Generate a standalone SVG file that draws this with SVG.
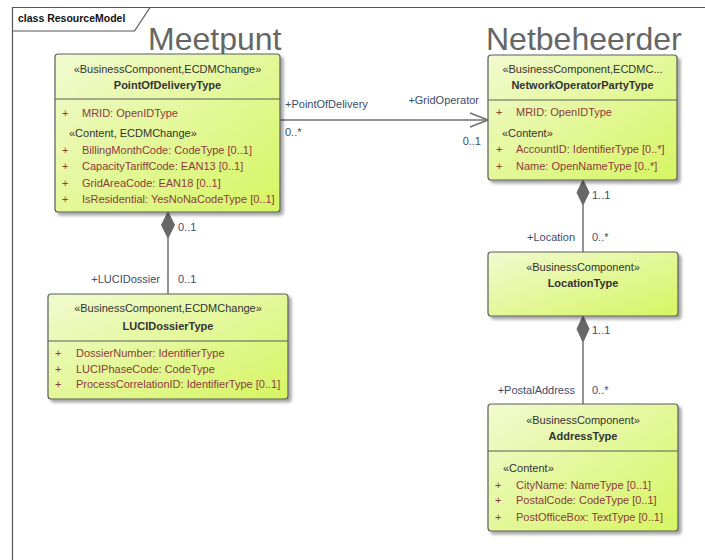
<svg xmlns="http://www.w3.org/2000/svg" width="705" height="560" viewBox="0 0 705 560">
  <defs>
    <linearGradient id="classFill" x1="0" y1="0" x2="1" y2="1">
      <stop offset="0" stop-color="#f1fad0"/>
      <stop offset="1" stop-color="#d6f562"/>
    </linearGradient>
    <filter id="shadow" x="-5%" y="-5%" width="115%" height="120%">
      <feDropShadow dx="3" dy="3" stdDeviation="1.5" flood-color="#000" flood-opacity="0.35"/>
    </filter>
    <marker id="openArrow" viewBox="0 0 20 16" refX="19" refY="8" markerWidth="20" markerHeight="16" markerUnits="userSpaceOnUse" orient="auto">
      <path d="M1,1 L19,8 L1,15" fill="none" stroke="#707070" stroke-width="1.5"/>
    </marker>
  </defs>
  <style>
    text { font-family: "Liberation Sans", Arial, sans-serif; }
    .box { fill: url(#classFill); stroke: #5c5c5c; stroke-width: 1.2; filter: url(#shadow); }
    .sep { stroke: #5c5c5c; stroke-width: 1; }
    .stereo { font-size: 11px; fill: #333; text-anchor: middle; }
    .name { font-size: 11px; font-weight: bold; fill: #333; text-anchor: middle; }
    .attr { font-size: 11px; fill: #8c3b3b; }
    .sect { font-size: 11px; fill: #333; }
    .title { font-size: 32px; fill: #666; }
    .lbl { font-size: 11px; fill: #3d4b6b; }
    .end { text-anchor: end; }
    .conn { stroke: #707070; stroke-width: 1.5; fill: none; }
    .diamond { fill: #676767; stroke: #676767; stroke-width: 1; }
  </style>

  <rect width="705" height="560" fill="#fff"/>

  <!-- diagram frame -->
  <g id="frame">
    <path d="M12.5,560 L12.5,7.5 L705,7.5" fill="none" stroke="#555" stroke-width="1.2"/>
    <path d="M12.5,31 L134.5,31 L150,7.5" fill="none" stroke="#555" stroke-width="1.2"/>
    <text x="18" y="22" font-size="10.5px" font-weight="bold" fill="#111">class ResourceModel</text>
  </g>

  <!-- package titles -->
  <text class="title" x="148" y="50">Meetpunt</text>
  <text class="title" x="486" y="50">Netbeheerder</text>

  <!-- connectors -->
  <g id="connectors">
    <line class="conn" x1="280" y1="120" x2="488" y2="120" marker-end="url(#openArrow)"/>
    <text class="lbl" x="285" y="108">+PointOfDelivery</text>
    <text class="lbl" x="285" y="136">0..*</text>
    <text class="lbl end" x="479" y="104">+GridOperator</text>
    <text class="lbl end" x="481" y="145">0..1</text>

    <line class="conn" x1="168" y1="238" x2="168" y2="294"/>
    <path class="diamond" d="M168,212 L174.5,225 L168,238 L161.5,225 Z"/>
    <text class="lbl" x="178" y="231">0..1</text>
    <text class="lbl end" x="160" y="283">+LUCIDossier</text>
    <text class="lbl" x="178" y="283">0..1</text>

    <line class="conn" x1="583" y1="205" x2="583" y2="252"/>
    <path class="diamond" d="M583,180 L589,192.5 L583,205 L577,192.5 Z"/>
    <text class="lbl" x="592" y="199">1..1</text>
    <text class="lbl end" x="575" y="241">+Location</text>
    <text class="lbl" x="592" y="241">0..*</text>

    <line class="conn" x1="583" y1="342" x2="583" y2="404"/>
    <path class="diamond" d="M583,316 L589,329 L583,342 L577,329 Z"/>
    <text class="lbl" x="592" y="334">1..1</text>
    <text class="lbl end" x="575" y="394">+PostalAddress</text>
    <text class="lbl" x="592" y="394">0..*</text>
  </g>

  <g id="PointOfDeliveryType">
    <rect class="box" x="55" y="54" width="225" height="158" rx="3"/>
    <line class="sep" x1="55" y1="99" x2="280" y2="99"/>
    <text class="stereo" x="167.5" y="73">«BusinessComponent,ECDMChange»</text>
    <text class="name" x="167.5" y="89">PointOfDeliveryType</text>
    <text class="attr" x="62" y="117">+</text>
    <text class="attr" x="82" y="117">MRID: OpenIDType</text>
    <text class="sect" x="69" y="137">«Content, ECDMChange»</text>
    <text class="attr" x="62" y="154">+</text>
    <text class="attr" x="82" y="154">BillingMonthCode: CodeType [0..1]</text>
    <text class="attr" x="62" y="170">+</text>
    <text class="attr" x="82" y="170">CapacityTariffCode: EAN13 [0..1]</text>
    <text class="attr" x="62" y="187">+</text>
    <text class="attr" x="82" y="187">GridAreaCode: EAN18 [0..1]</text>
    <text class="attr" x="62" y="203">+</text>
    <text class="attr" x="82" y="203">IsResidential: YesNoNaCodeType [0..1]</text>
  </g>

  <g id="NetworkOperatorPartyType">
    <rect class="box" x="488" y="55" width="189" height="125" rx="3"/>
    <line class="sep" x1="488" y1="100" x2="677" y2="100"/>
    <text class="stereo" x="582.5" y="73">«BusinessComponent,ECDMC...</text>
    <text class="name" x="582.5" y="89">NetworkOperatorPartyType</text>
    <text class="attr" x="496" y="116">+</text>
    <text class="attr" x="516" y="116">MRID: OpenIDType</text>
    <text class="sect" x="502" y="137">«Content»</text>
    <text class="attr" x="496" y="153">+</text>
    <text class="attr" x="516" y="153">AccountID: IdentifierType [0..*]</text>
    <text class="attr" x="496" y="170">+</text>
    <text class="attr" x="516" y="170">Name: OpenNameType [0..*]</text>
  </g>

  <g id="LUCIDossierType">
    <rect class="box" x="48" y="294" width="240" height="105" rx="3"/>
    <line class="sep" x1="48" y1="341" x2="288" y2="341"/>
    <text class="stereo" x="168" y="312">«BusinessComponent,ECDMChange»</text>
    <text class="name" x="168" y="330">LUCIDossierType</text>
    <text class="attr" x="55" y="357">+</text>
    <text class="attr" x="76" y="357">DossierNumber: IdentifierType</text>
    <text class="attr" x="55" y="373">+</text>
    <text class="attr" x="76" y="373">LUCIPhaseCode: CodeType</text>
    <text class="attr" x="55" y="388">+</text>
    <text class="attr" x="76" y="388">ProcessCorrelationID: IdentifierType [0..1]</text>
  </g>

  <g id="LocationType">
    <rect class="box" x="488" y="252" width="190" height="64" rx="3"/>
    <text class="stereo" x="583" y="271">«BusinessComponent»</text>
    <text class="name" x="583" y="287">LocationType</text>
  </g>

  <g id="AddressType">
    <rect class="box" x="488" y="404" width="190" height="127" rx="3"/>
    <line class="sep" x1="488" y1="451" x2="678" y2="451"/>
    <text class="stereo" x="583" y="424">«BusinessComponent»</text>
    <text class="name" x="583" y="440">AddressType</text>
    <text class="sect" x="503" y="472">«Content»</text>
    <text class="attr" x="495" y="489">+</text>
    <text class="attr" x="516" y="489">CityName: NameType [0..1]</text>
    <text class="attr" x="495" y="504">+</text>
    <text class="attr" x="516" y="504">PostalCode: CodeType [0..1]</text>
    <text class="attr" x="495" y="521">+</text>
    <text class="attr" x="516" y="521">PostOfficeBox: TextType [0..1]</text>
  </g>
</svg>
